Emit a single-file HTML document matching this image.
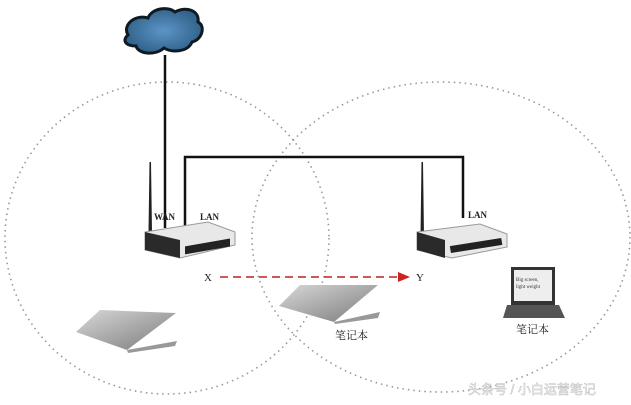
<!DOCTYPE html>
<html><head><meta charset="utf-8"><style>
html,body{margin:0;padding:0;background:#fff;width:631px;height:405px;overflow:hidden}
</style></head><body>
<svg width="631" height="405" viewBox="0 0 631 405" xmlns="http://www.w3.org/2000/svg" font-family="Liberation Serif, Noto Serif CJK SC, serif">
<defs>
<linearGradient id="lg" x1="0" y1="0" x2="1" y2="1"><stop offset="0" stop-color="#d8d8d8"/><stop offset="1" stop-color="#7a7a7a"/></linearGradient>
<radialGradient id="cg" cx="0.5" cy="0.5" r="0.6"><stop offset="0" stop-color="#5d95c8"/><stop offset="1" stop-color="#2a5a80"/></radialGradient>
</defs>
<ellipse cx="167" cy="238" rx="162" ry="156" fill="none" stroke="#999" stroke-width="1.6" stroke-dasharray="1.5 4"/>
<ellipse cx="441" cy="237" rx="189" ry="155" fill="none" stroke="#999" stroke-width="1.6" stroke-dasharray="1.5 4"/>
<path d="M128 35 C122 25 135 14 148 18 C152 8 168 6 175 12 C185 6 200 10 198 22 C206 26 202 40 192 42 C188 52 172 53 164 48 C155 56 138 54 136 46 C125 46 122 40 128 35Z" fill="url(#cg)" stroke="#0f1a22" stroke-width="3"/>
<line x1="165" y1="55" x2="165" y2="228" stroke="#111" stroke-width="2.5"/>
<polyline points="185,226 185,157 463,157 463,218" fill="none" stroke="#111" stroke-width="2.5"/>
<path d="M148.5 232 L149.5 162 L151 162 L152 232Z" fill="#222"/>
<path d="M145 232 L208 222 L235 232 L235 245 L180 258 L145 250Z" fill="#e8e8e8" stroke="#999"/>
<path d="M145 232 L180 240 L180 258 L145 250Z" fill="#2a2a2a"/>
<rect x="185" y="243" width="45" height="8" fill="#222" transform="skewY(-10) translate(0,36)"/>
<text x="154" y="220" font-size="9" font-weight="bold" fill="#222">WAN</text>
<text x="200" y="220" font-size="9" font-weight="bold" fill="#222">LAN</text>
<path d="M420.5 236 L421.5 162 L423 162 L424 236Z" fill="#222"/>
<path d="M417 232 L480 224 L507 234 L507 247 L452 258 L417 250Z" fill="#e8e8e8" stroke="#999"/>
<path d="M417 232 L445 240 L445 258 L417 250Z" fill="#2a2a2a"/>
<rect x="450" y="242" width="52" height="7" fill="#222" transform="rotate(-9 476 245)"/>
<text x="468" y="218" font-size="9" font-weight="bold" fill="#222">LAN</text>
<line x1="220" y1="277" x2="400" y2="277" stroke="#b22" stroke-width="1.5" stroke-dasharray="8 5"/>
<path d="M398 272 L410 277 L398 282Z" fill="#c22"/>
<text x="204" y="281" font-size="11" fill="#222">X</text>
<text x="416" y="281" font-size="11" fill="#222">Y</text>
<path d="M76 332 L100 310 L176 313 L127 350Z" fill="url(#lg)"/>
<path d="M127 350 L177 341 L175 346 L128 353Z" fill="#999"/>
<path d="M279 306 L300 285 L378 285 L334 322Z" fill="url(#lg)"/>
<path d="M334 322 L380 312 L378 318 L335 324Z" fill="#999"/>
<text x="335" y="339" font-size="11" fill="#222">笔记本</text>
<rect x="511" y="267" width="44" height="38" fill="#333"/>
<rect x="514" y="270" width="38" height="31" fill="#eee"/>
<text x="516" y="281" font-size="5" fill="#333">Big screen,</text>
<text x="516" y="288" font-size="5" fill="#333">light weight</text>
<path d="M507 305 L559 305 L565 318 L503 318Z" fill="#555"/>
<text x="516" y="333" font-size="11" fill="#222">笔记本</text>
<text x="468" y="394" font-size="13" fill="#fff" stroke="#bbb" stroke-width="0.5" font-family="Liberation Sans, Noto Sans CJK SC, sans-serif">头条号 / 小白运营笔记</text>
</svg>
</body></html>
